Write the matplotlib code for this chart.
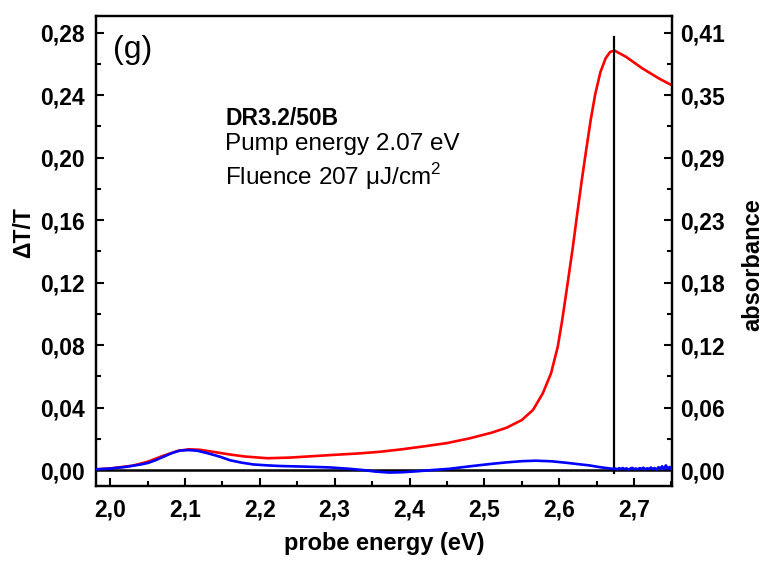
import os
import matplotlib
matplotlib.use("Agg")
import matplotlib.pyplot as plt
import matplotlib.font_manager as fm
from matplotlib.font_manager import FontProperties
from matplotlib.ticker import FixedLocator, MultipleLocator, FuncFormatter
import numpy as np

plt.rcParams['font.family'] = ['Liberation Sans', 'DejaVu Sans']
plt.rcParams['mathtext.fontset'] = 'custom'
plt.rcParams['mathtext.rm'] = 'Liberation Sans'


def _find_font(fname):
    for p in fm.findSystemFonts():
        if os.path.basename(p) == fname:
            return p
    return None


REG_PATH = _find_font('LiberationSans-Regular.ttf')
BOLD_PATH = _find_font('LiberationSans-Bold.ttf')


def fprop(size, bold=False):
    path = BOLD_PATH if bold else REG_PATH
    if path:
        return FontProperties(fname=path, size=size)
    return FontProperties(family='Liberation Sans', size=size,
                          weight='bold' if bold else 'normal', stretch='normal')


# ---- data ----
# absorbance (right axis)
abs_energy = [1.981, 2.0, 2.03, 2.05, 2.07, 2.09, 2.105, 2.12, 2.14, 2.16, 2.18,
              2.21, 2.24, 2.27, 2.30, 2.33, 2.36, 2.39, 2.42, 2.45, 2.48, 2.51,
              2.53, 2.55, 2.565, 2.578, 2.589, 2.598, 2.604, 2.611, 2.618, 2.624,
              2.630, 2.636, 2.642, 2.648, 2.655, 2.662, 2.668, 2.674, 2.689,
              2.711, 2.733, 2.750]
absorbance = [0.0006, 0.0015, 0.0041, 0.0078, 0.0132, 0.0179, 0.0195, 0.0190,
              0.0168, 0.0146, 0.0127, 0.0111, 0.0117, 0.0130, 0.0143, 0.0155,
              0.0171, 0.0195, 0.0223, 0.0253, 0.0297, 0.0351, 0.0398, 0.0469,
              0.0564, 0.0719, 0.0906, 0.1155, 0.1406, 0.1740, 0.2080, 0.2400,
              0.2710, 0.3000, 0.3280, 0.3520, 0.3730, 0.3860, 0.3920, 0.3932,
              0.3875, 0.3766, 0.3672, 0.3609]

# transient Delta T/T (left axis)
dtt_energy = [1.981, 2.0, 2.02, 2.04, 2.05, 2.06, 2.071, 2.082, 2.093, 2.105,
              2.116, 2.13, 2.147, 2.16, 2.175, 2.191, 2.21, 2.227, 2.26, 2.293,
              2.32, 2.338, 2.355, 2.373, 2.39, 2.409, 2.43, 2.453, 2.484, 2.51,
              2.529, 2.55, 2.569, 2.59, 2.609, 2.625, 2.64, 2.655, 2.671,
              2.675, 2.6775, 2.68, 2.6825, 2.685, 2.6875, 2.69, 2.6925, 2.695,
              2.6975, 2.70, 2.7025, 2.705, 2.7075, 2.71, 2.7125, 2.715, 2.7175,
              2.72, 2.7225, 2.725, 2.7275, 2.73, 2.7325, 2.735, 2.7375, 2.74,
              2.7425, 2.745, 2.7475, 2.75]
dtt = [0.0005, 0.0010, 0.0020, 0.0035, 0.0045, 0.0062, 0.0085, 0.0108, 0.0125,
       0.0128, 0.0124, 0.0108, 0.0085, 0.0063, 0.0048, 0.0036, 0.0030, 0.0026,
       0.0022, 0.0017, 0.0008, 0.0000, -0.0010, -0.0016, -0.0014, -0.0008,
       0.0000, 0.0008, 0.0026, 0.0040, 0.0049, 0.0057, 0.0060, 0.0056, 0.0047,
       0.0038, 0.0030, 0.0018, 0.0008,
       0.0010, 0.0004, 0.0012, 0.0007, 0.0013, 0.0006, 0.0011, 0.0003, 0.0009,
       0.0014, 0.0006, 0.0010, 0.0005, 0.0012, 0.0008, 0.0015, 0.0004, 0.0011,
       0.0007, 0.0016, 0.0006, 0.0013, 0.0002, 0.0018, 0.0009, 0.0024, 0.0005,
       0.0030, 0.0008, 0.0020, 0.0006]

pump_marker_energy = 2.673
pump_marker_range = (-0.002, 0.277)

x_ticks = [2.0, 2.1, 2.2, 2.3, 2.4, 2.5, 2.6, 2.7]
left_ticks = [0.00, 0.04, 0.08, 0.12, 0.16, 0.20, 0.24, 0.28]
abs_scale = 0.41 / 0.28

# ---- figure ----
fig = plt.figure(figsize=(7.64, 5.65), dpi=100)
ax = fig.add_axes([96/764, 1-486/565, 576/764, 470/565])
ax2 = ax.twinx()

ax.set_xlim(1.981, 2.7507)
ylo, yhi = -0.0102, 0.2907
ax.set_ylim(ylo, yhi)
ax2.set_ylim(ylo * abs_scale, yhi * abs_scale)

ax.axhline(0, color='black', lw=1.8, zorder=1)
ax.plot(dtt_energy, dtt, color='#0000ff', lw=1.9, zorder=3)
ax2.plot(abs_energy, absorbance, color='#ff0000', lw=1.9, zorder=2)
ax2.plot([pump_marker_energy, pump_marker_energy],
         [pump_marker_range[0]*abs_scale, pump_marker_range[1]*abs_scale],
         color='black', lw=1.6, zorder=4)

ax.set_zorder(ax2.get_zorder() + 1)
ax.patch.set_visible(False)

# ticks
fmt_comma = FuncFormatter(lambda v, p: f"{v:.2f}".replace('.', ','))
ax.xaxis.set_major_locator(FixedLocator(x_ticks))
ax.xaxis.set_minor_locator(MultipleLocator(0.05))
ax.xaxis.set_major_formatter(FuncFormatter(lambda v, p: f"{v:.1f}".replace('.', ',')))
ax.yaxis.set_major_locator(FixedLocator(left_ticks))
ax.yaxis.set_minor_locator(MultipleLocator(0.02))
ax.yaxis.set_major_formatter(fmt_comma)

right_ticks = [t * abs_scale for t in left_ticks]
right_minor = [(t + 0.02) * abs_scale for t in left_ticks]
ax2.yaxis.set_major_locator(FixedLocator(right_ticks))
ax2.yaxis.set_minor_locator(FixedLocator(right_minor))
ax2.yaxis.set_major_formatter(fmt_comma)

for a in (ax, ax2):
    for s in a.spines.values():
        s.set_linewidth(1.6)

ax.tick_params(axis='both', which='major', direction='in', length=6, width=1.5,
               top=False, right=False)
ax.tick_params(axis='both', which='minor', direction='in', length=3.5, width=1.5,
               top=False, right=False)
ax.tick_params(axis='y', which='major', pad=8)
ax.tick_params(axis='x', which='major', pad=9)
ax2.tick_params(axis='y', which='major', direction='in', length=6, width=1.5, pad=6)
ax2.tick_params(axis='y', which='minor', direction='in', length=3.5, width=1.5)

tick_fp = fprop(16.5, bold=True)
for lab in ax.get_xticklabels() + ax.get_yticklabels() + ax2.get_yticklabels():
    lab.set_fontproperties(tick_fp)

ax.set_xlabel('probe energy (eV)', fontproperties=fprop(17, bold=True))
ax.xaxis.set_label_coords(0.5, -0.097)
ax.set_ylabel('ΔT/T', fontproperties=fprop(16.5, bold=True))
ax.yaxis.set_label_coords(-0.105, 0.54)
ax2.set_ylabel('absorbance', fontproperties=fprop(17, bold=True))
ax2.yaxis.set_label_coords(1.12, 0.47)

ax.text(0.0295, 0.91, '(g)', transform=ax.transAxes,
        fontproperties=fprop(23), va='baseline', ha='left')
ax.text(0.224, 0.768, 'DR3.2/50B', transform=ax.transAxes,
        fontproperties=fprop(16.5, bold=True), va='baseline', ha='left')
ax.text(0.224, 0.715, 'Pump energy 2.07 eV', transform=ax.transAxes,
        fontproperties=fprop(17.5), va='baseline', ha='left')
ax.text(0.224, 0.640, r'Fluence 207 μJ/cm$^{\mathregular{2}}$',
        transform=ax.transAxes, fontproperties=fprop(17.5),
        va='baseline', ha='left')

fig.savefig('out.png', dpi=100)
